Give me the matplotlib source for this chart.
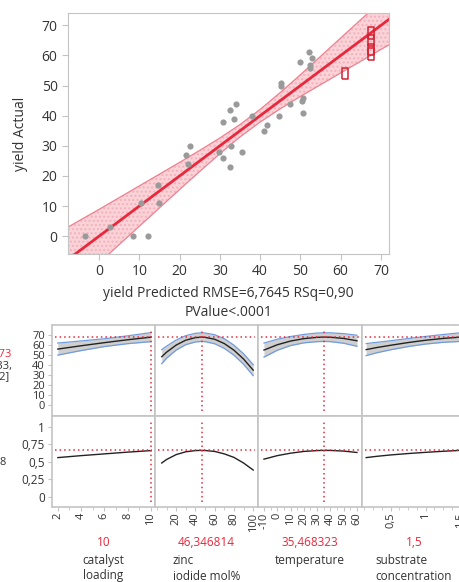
import matplotlib
matplotlib.use('Agg')
import matplotlib.pyplot as plt
from matplotlib.ticker import MultipleLocator, FuncFormatter
import numpy as np

# --- Actual by Predicted data ---
pred = [-3.6, 2.65, 8.5, 12.1, 10.5, 14.8, 14.7, 21.5, 22.5, 22.1, 29.7, 30.9,
        30.9, 32.6, 32.4, 33.4, 34.1, 32.8, 35.5, 38.1, 40.9, 41.8, 44.7, 45.3,
        45.3, 47.5, 49.9, 50.4, 50.7, 50.7, 52.1, 52.9, 52.5, 52.5]
actual = [0, 3, 0, 0, 11, 11, 17, 27, 30, 24, 28, 38,
          26, 42, 23, 39, 44, 30, 28, 40, 35, 37, 40, 51,
          50, 44, 58, 45, 46, 41, 61, 59, 57, 56]
excl_pred = [61.1, 67.5, 67.5, 67.5, 67.5]
excl_actual = [54, 67.5, 65, 62, 60.5]

# confidence band half widths
band_x = [-8, -5, 0, 5, 10, 15, 20, 25, 30, 35, 40, 45, 50, 55, 60, 65, 70, 73]
band_hw = [10.8, 10.1, 8.9, 7.8, 6.7, 5.6, 4.5, 3.5, 2.6, 2.05, 2.1, 2.7,
           3.6, 4.7, 5.8, 6.9, 8.0, 8.7]

# --- Prediction profiler data ---
current = 67.89673
current_d = 0.66
factor_names = ['catalyst\nloading', 'zinc\niodide mol%', 'temperature',
                'substrate\nconcentration']
factor_values = ['10', '46,346814', '35,468323', '1,5']
factor_current = [10, 46.346814, 35.468323, 1.5]
factor_ticks = [[2, 4, 6, 8, 10], [20, 40, 60, 80, 100],
                [-10, 0, 10, 20, 30, 40, 50, 60], [0.5, 1, 1.5]]

cat_x = [2, 4, 6, 8, 10]
cat_y = [56.0, 59.3, 62.4, 65.3, 67.9]
cat_hw = [6.0, 4.8, 3.9, 3.9, 4.5]
cat_d = [0.557, 0.585, 0.61, 0.635, 0.657]

zn_x = [5, 10, 20, 30, 40, 46.3, 50, 60, 70, 80, 90, 100]
zn_y = [48.4, 52.9, 60.0, 64.9, 67.4, 67.9, 67.7, 65.8, 61.5, 54.9, 46.1, 35.0]
zn_hw = [7.0, 6.0, 5.0, 4.5, 4.3, 4.3, 4.3, 4.5, 4.8, 5.0, 5.2, 5.5]
zn_d = [0.48, 0.53, 0.6, 0.64, 0.657, 0.66, 0.658, 0.645, 0.61, 0.56, 0.48, 0.38]

temp_x = [-10, 0, 10, 20, 30, 35.5, 40, 50, 60]
temp_y = [55.0, 60.3, 64.0, 66.4, 67.7, 67.9, 67.8, 66.6, 64.3]
temp_hw = [7.0, 5.5, 4.5, 4.2, 4.3, 4.3, 4.4, 4.8, 5.5]
temp_d = [0.535, 0.585, 0.62, 0.645, 0.657, 0.66, 0.659, 0.65, 0.63]

sub_x = [0.15, 0.3, 0.5, 0.75, 1.0, 1.25, 1.5]
sub_y = [55.5, 57.5, 59.8, 62.5, 64.8, 66.6, 67.9]
sub_hw = [6.0, 5.2, 4.5, 4.0, 3.8, 3.9, 4.3]
sub_d = [0.557, 0.575, 0.595, 0.615, 0.632, 0.647, 0.66]

W, H = 459, 582
plt.rcParams['font.family'] = ['Open Sans', 'DejaVu Sans']
TXT = '#333333'
GRID = '#c4c4c4'
RED = '#e8283c'

fig = plt.figure(figsize=(W / 100, H / 100), dpi=100)


def px_axes(l, t, r, b):
    return fig.add_axes([l / W, 1 - b / H, (r - l) / W, (b - t) / H])


def comma(v, pos=None):
    return ('%g' % v).replace('.', ',')


# ---------------- Actual by Predicted ----------------
ax = px_axes(68, 13, 389, 254)
bx = np.array(band_x)
bh = np.array(band_hw)
ax.fill_between(bx, bx - bh, bx + bh, color='#f8c8cf', alpha=0.8, lw=0,
                hatch='....', edgecolor='#f4a9b4')
ax.plot(bx, bx + bh, color='#f07f8e', lw=0.9)
ax.plot(bx, bx - bh, color='#f07f8e', lw=0.9)
ax.plot([-8, 73], [-8, 73], color=RED, lw=2)
ax.scatter(pred, actual, s=20, color='#9a9a9a', zorder=3, lw=0)
rect = [(-0.5, -1), (0.5, -1), (0.5, 1), (-0.5, 1), (-0.5, -1)]
ax.scatter(excl_pred, excl_actual, marker=rect, s=70, facecolors='none',
           edgecolors='#d42030', lw=1.1, zorder=4)
ax.set_xlim(-7.7, 72)
ax.set_ylim(-5.9, 74.1)
ax.xaxis.set_major_locator(MultipleLocator(10))
ax.yaxis.set_major_locator(MultipleLocator(10))
ax.tick_params(colors=GRID, labelcolor=TXT, labelsize=10, length=4)
for s in ax.spines.values():
    s.set_color(GRID)
ax.set_xlabel('yield Predicted RMSE=6,7645 RSq=0,90\nPValue<.0001',
              fontsize=10, color=TXT, labelpad=5, linespacing=1.3)
ax.set_ylabel('yield Actual', fontsize=10, color=TXT, labelpad=10)

# ---------------- Prediction profiler ----------------
col_edges = [52, 155, 258, 362, 466]
row_edges = [325, 416, 507]
xlims = [(1.5, 10.35), (-2, 105), (-14.5, 63.8), (0.09, 1.58)]
minor = [1, 10, 5, 0.125]
series = [(cat_x, cat_y, cat_hw, cat_d), (zn_x, zn_y, zn_hw, zn_d),
          (temp_x, temp_y, temp_hw, temp_d), (sub_x, sub_y, sub_hw, sub_d)]

for i in range(4):
    xs, ys, hw, ds = [np.array(a) for a in series[i]]
    top = px_axes(col_edges[i], row_edges[0], col_edges[i + 1], row_edges[1])
    bot = px_axes(col_edges[i], row_edges[1], col_edges[i + 1], row_edges[2])

    top.fill_between(xs, ys - hw, ys + hw, color='#cfcfcf', lw=0)
    top.plot(xs, ys + hw, color='#6f9be0', lw=0.9)
    top.plot(xs, ys - hw, color='#6f9be0', lw=0.9)
    top.plot(xs, ys, color='#222222', lw=1.0)
    top.axhline(current, color=RED, ls=(0, (1, 2)), lw=1.1, xmin=0.03, xmax=0.97)
    top.axvline(factor_current[i], color=RED, ls=(0, (1, 2)), lw=1.1,
                ymin=0.05, ymax=0.95)
    top.set_ylim(-10.7, 80)

    bot.plot(xs, ds, color='#222222', lw=1.0)
    bot.axhline(current_d, color=RED, ls=(0, (1, 2)), lw=1.1, xmin=0.03, xmax=0.97)
    bot.axvline(factor_current[i], color=RED, ls=(0, (1, 2)), lw=1.1,
                ymin=0.05, ymax=0.95)
    bot.set_ylim(-0.147, 1.15)

    for a in (top, bot):
        a.set_xlim(*xlims[i])
        for s in a.spines.values():
            s.set_color(GRID)
            s.set_linewidth(1.2)
        a.tick_params(colors=GRID, labelcolor=TXT, length=3)
    top.set_xticks([])
    bot.set_xticks(factor_ticks[i])
    bot.xaxis.set_minor_locator(MultipleLocator(minor[i]))
    bot.xaxis.set_major_formatter(FuncFormatter(comma))
    bot.tick_params(axis='x', which='both', labelrotation=90, labelsize=8,
                    pad=1)
    bot.tick_params(axis='x', which='minor', colors=GRID, length=2)
    if i == 0:
        top.set_yticks(range(0, 71, 10))
        top.tick_params(axis='y', labelsize=8, pad=2)
        bot.set_yticks([0, 0.25, 0.5, 0.75, 1])
        bot.yaxis.set_major_formatter(FuncFormatter(comma))
        bot.tick_params(axis='y', labelsize=8.5, pad=2)
    else:
        top.set_yticks([])
        bot.set_yticks([])

    cx = (col_edges[i] + col_edges[i + 1]) / 2 / W
    fig.text(cx, 1 - 543 / H, factor_values[i], color=RED, fontsize=8.5,
             ha='center', va='center')
    fig.text(cx, 1 - 554 / H, factor_names[i], color=TXT, fontsize=8.5,
             ha='center', va='top', multialignment='left', linespacing=1.25)

# row labels cut off at the left edge, as in the source image
fig.text(12 / W, 1 - 355 / H, '67,89673', color=RED, fontsize=8,
         ha='right', va='center')
fig.text(12 / W, 1 - 366 / H, '[62,64133,', color=TXT, fontsize=8,
         ha='right', va='center')
fig.text(10 / W, 1 - 377 / H, '73,15212]', color=TXT, fontsize=8,
         ha='right', va='center')
fig.text(7 / W, 1 - 463 / H, '0,663798', color=TXT, fontsize=8,
         ha='right', va='center')

fig.savefig('out.png', dpi=100)
